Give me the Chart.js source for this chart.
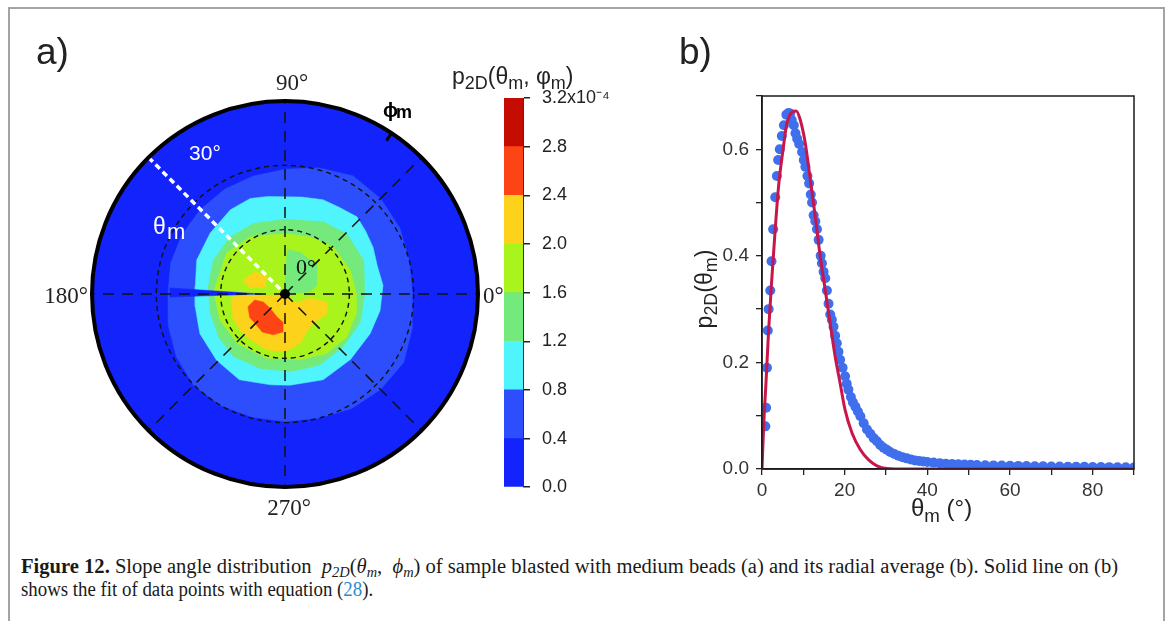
<!DOCTYPE html>
<html>
<head>
<meta charset="utf-8">
<script src="https://cdn.jsdelivr.net/npm/chart.js@4.4.1/dist/chart.umd.min.js"></script>
<style>
body { margin:0; width:1169px; height:621px; background:#fff; position:relative; overflow:hidden; font-family:"Liberation Sans", Arial, sans-serif; color:#222; }
#frame { position:absolute; left:8px; top:7px; width:1153px; height:640px; border:2px solid #a3a3a3; border-bottom:none; }
canvas { position:absolute; }
.lbl { position:absolute; white-space:nowrap; }
.lbl sub { font-size:0.78em; vertical-align:-0.3em; line-height:0; }
#cap1, #cap2 { position:absolute; left:21px; font-family:"Liberation Serif", serif; font-size:20.5px; white-space:nowrap; transform-origin:0 0; color:#1a1a1a; }
#cap1 i sub { font-size:0.7em; vertical-align:-0.3em; line-height:0; }
</style>
</head>
<body>
<div id="frame"></div>

<canvas id="polar" width="510" height="500" style="left:0;top:40px"></canvas>
<canvas id="cbar" width="130" height="450" style="left:495px;top:60px"></canvas>
<canvas id="radial" width="490" height="470" style="left:670px;top:60px"></canvas>

<div class="lbl" style="left:36px;top:31px;font-size:37px;">a)</div>
<div class="lbl" style="left:679px;top:31px;font-size:37px;">b)</div>
<div class="lbl" style="left:452px;top:63px;font-size:23px;">p<sub>2D</sub>(θ<sub>m</sub>, φ<sub>m</sub>)</div>
<div class="lbl" style="left:911px;top:494px;font-size:24px;">θ<sub>m</sub> (°)</div>
<div class="lbl" style="left:704px;top:289px;font-size:23px;transform:translate(-50%,-50%) rotate(-90deg);">p<sub>2D</sub>(θ<sub>m</sub>)</div>

<div id="cap1" style="top:555px;"><b>Figure 12.</b> Slope angle distribution &nbsp;<i>p<sub>2D</sub></i>(<i>θ<sub>m</sub></i>, &nbsp;<i>ϕ<sub>m</sub></i>) of sample blasted with medium beads (a) and its radial average (b). Solid line on (b)</div>
<div id="cap2" style="top:578px;">shows the fit of data points with equation (<span style="color:#2b8ccc">28</span>).</div>

<script>
// ---------- panel a: polar contour map, boundaries as [phi_m (deg), theta_m (deg)] ----------
var thetaMax = 30;
var ringTheta = [10, 20];
var spokePhi = [0, 45, 90, 135, 180, 225, 270, 315];
var levelColors = ['#1224fb', '#2c4efd', '#50f4fd', '#74e97c', '#aaf41e', '#fdd21b', '#fd4414', '#c40c00'];

var level04 = [[0,19.8],[15,20.0],[30,20.6],[45,21.0],[60,21.2],[75,20.3],[90,19.4],[105,19.0],[120,18.8],[135,18.6],[150,18.5],[165,18.4],[180,18.2],[195,18.8],[210,19.5],[225,20.1],[240,20.0],[255,19.8],[270,19.8],[285,20.0],[300,20.6],[315,21.0],[330,21.3],[345,20.5]];
var level08 = [[5,15.3],[17,15.0],[28,15.5],[38,15.9],[47,16.4],[58,15.9],[68,15.8],[80,15.3],[90,15.1],[100,15.4],[110,15.8],[123,15.6],[141,15.0],[159,14.7],[175,14.0],[188,14.1],[205,14.6],[224,14.8],[242,15.1],[261,14.3],[273,14.2],[294,14.6],[315,14.4],[335,14.6],[350,15.0]];
var level12 = [[0,12.4],[23,13.3],[44,13.4],[62,12.7],[90,11.6],[114,12.0],[134,12.3],[155,12.3],[175,12.0],[194,12.0],[213,12.3],[230,12.6],[251,12.2],[274,12.1],[296,12.3],[318,12.2],[339,12.5]];
var level16 = [[0,11.1],[20,10.8],[44,10.5],[66,9.7],[90,9.4],[121,10.4],[145,11.1],[178,11.1],[202,10.9],[226,10.7],[254,10.4],[283,10.5],[305,11.3],[325,11.7],[345,11.5]];
var level12Hole = [[3,1.0],[5,3.9],[16,5.2],[42,6.7],[70,6.9],[87,6.9],[90,2.0],[90,0.3]];
var level20 = [[208,0.5],[185,3.4],[181,6.5],[184,8.4],[205,8.9],[223,9.0],[233,8.9],[252,9.1],[270,9.0],[287,8.0],[307,6.4],[336,7.2],[349,6.6],[351,3.9],[323,2.3]];
var level20Patch = [[162,6.9],[144,5.8],[135,4.0],[161,3.3],[170,5.5]];
var level24 = [[191,4.8],[199,6.1],[214,6.6],[224,6.5],[239,6.9],[254,6.6],[267,5.9],[266,4.4],[251,3.8],[223,3.2],[200,3.6]];
var levelGap = [[177,17.9],[181.5,17.9],[180,3.6]];

// ---------- colour bar ----------
var cbEdges = [0, 0.4, 0.8, 1.2, 1.6, 2.0, 2.4, 2.8, 3.2];

// ---------- panel b: radial average ----------
var thetaObs = [0.8,1.0,1.2,1.4,1.6,2.0,2.3,2.7,3.2,3.6,3.9,4.3,4.8,5.3,5.9,6.4,6.8,7.2,7.7,8.1,8.5,9.0,9.7,10.1,10.5,11.0,11.4,11.8,12.1,12.5,12.9,13.3,13.7,14.2,14.5,14.9,15.3,15.7,16.1,16.5,16.9,17.3,17.7,18.1,18.5,18.9,19.5,20.1,20.5,20.9,21.5,22.0,22.6,23.2,23.8,24.6,25.4,26.2,27.0,27.8,28.6,29.4,30.2,31.0,32.0,33,34,35,36,37,38,39,40,41.5,43,44.5,46,47.5,49,50.5,52,54,56,58,60,62,64,66,68,70,72,74,76,78,80,82,84,86,88,90];
var pObs = [0.080,0.115,0.190,0.260,0.300,0.335,0.390,0.450,0.510,0.550,0.580,0.600,0.625,0.645,0.665,0.668,0.667,0.655,0.645,0.630,0.620,0.610,0.595,0.580,0.567,0.550,0.536,0.515,0.500,0.476,0.465,0.450,0.430,0.400,0.386,0.370,0.358,0.335,0.310,0.290,0.280,0.267,0.250,0.236,0.220,0.205,0.190,0.174,0.160,0.149,0.135,0.125,0.117,0.108,0.099,0.086,0.074,0.066,0.058,0.052,0.045,0.040,0.036,0.032,0.028,0.025,0.022,0.020,0.018,0.016,0.015,0.014,0.013,0.012,0.011,0.010,0.0095,0.009,0.0085,0.008,0.0075,0.007,0.0068,0.0065,0.006,0.0058,0.0055,0.0052,0.005,0.0048,0.0045,0.0043,0.004,0.004,0.0038,0.0036,0.0035,0.0033,0.0032,0.003];
var thetaFit = [0,0.4,1.0,1.6,2.4,3.2,4.0,5.1,6.0,7.3,8.3,9.3,10.5,11.7,12.9,14.1,15.3,16.5,17.7,18.9,20.1,21.8,23.8,25.8,27.8,30.2,35,90];
var pFit = [0,0.08,0.167,0.26,0.36,0.45,0.53,0.60,0.648,0.670,0.672,0.654,0.61,0.542,0.473,0.398,0.336,0.273,0.211,0.161,0.111,0.067,0.036,0.017,0.006,0.001,0,0];
var xLabelled = [0, 20, 40, 60, 80];
var yLabelled = [0, 0.2, 0.4, 0.6];

Chart.defaults.font.family = '"Liberation Sans", Arial, sans-serif';
Chart.defaults.color = '#2a2a2a';

function polarPoints(poly) {
    var pts = poly.map(function(p) {
        var a = p[0] * Math.PI / 180;
        return {x: p[1] * Math.cos(a), y: p[1] * Math.sin(a)};
    });
    pts.push(pts[0]);
    return pts;
}

var polarLayers = [
    [level04, 1], [level08, 2], [level12, 3], [level16, 4], [level12Hole, 3],
    [level20, 5], [level20Patch, 5], [level24, 6], [levelGap, 0]
];

var polarSets = polarLayers.map(function(l, i) {
    return {
        data: polarPoints(l[0]),
        showLine: true,
        fill: 'shape',
        backgroundColor: levelColors[l[1]],
        borderColor: levelColors[l[1]],
        borderWidth: 0.5,
        pointRadius: 0,
        tension: 0,
        order: polarLayers.length - i
    };
});

function drawText(ctx, s, x, y, font, color, align) {
    ctx.font = font;
    ctx.fillStyle = color;
    ctx.textAlign = align || 'center';
    ctx.textBaseline = 'middle';
    ctx.fillText(s, x, y);
}

var polarFrame = {
    id: 'polarFrame',
    beforeDatasetsDraw: function(chart) {
        var ctx = chart.ctx, xs = chart.scales.x, ys = chart.scales.y;
        var cx = xs.getPixelForValue(0), cy = ys.getPixelForValue(0);
        var R = xs.getPixelForValue(thetaMax) - cx;
        ctx.save();
        ctx.beginPath();
        ctx.arc(cx, cy, R, 0, 2 * Math.PI);
        ctx.fillStyle = levelColors[0];
        ctx.fill();
        ctx.restore();
    },
    afterDatasetsDraw: function(chart) {
        var ctx = chart.ctx, xs = chart.scales.x, ys = chart.scales.y;
        var cx = xs.getPixelForValue(0), cy = ys.getPixelForValue(0);
        var R = xs.getPixelForValue(thetaMax) - cx;
        ctx.save();
        ctx.strokeStyle = '#111';
        // dashed rings
        ctx.lineWidth = 1.4;
        ctx.setLineDash([5, 4]);
        ringTheta.forEach(function(t) {
            ctx.beginPath();
            ctx.arc(cx, cy, xs.getPixelForValue(t) - cx, 0, 2 * Math.PI);
            ctx.stroke();
        });
        // dashed spokes
        ctx.lineWidth = 1.5;
        ctx.setLineDash([11, 8]);
        spokePhi.forEach(function(ph) {
            if (ph === 135) return;
            var a = ph * Math.PI / 180;
            ctx.beginPath();
            ctx.moveTo(cx, cy);
            ctx.lineTo(cx + R * Math.cos(a), cy - R * Math.sin(a));
            ctx.stroke();
        });
        // white theta_m indicator
        ctx.strokeStyle = '#fff';
        ctx.lineWidth = 3.5;
        ctx.setLineDash([6, 4]);
        var a1 = 135 * Math.PI / 180;
        ctx.beginPath();
        ctx.moveTo(cx + R * Math.cos(a1), cy - R * Math.sin(a1));
        ctx.lineTo(cx, cy);
        ctx.stroke();
        // outer circle
        ctx.setLineDash([]);
        ctx.strokeStyle = '#000';
        ctx.lineWidth = 4;
        ctx.beginPath();
        ctx.arc(cx, cy, R, 0, 2 * Math.PI);
        ctx.stroke();
        // phi_m tick
        var a2 = 56.5 * Math.PI / 180;
        ctx.lineWidth = 3;
        ctx.beginPath();
        ctx.moveTo(cx + (R - 9) * Math.cos(a2), cy - (R - 9) * Math.sin(a2));
        ctx.lineTo(cx + R * Math.cos(a2), cy - R * Math.sin(a2));
        ctx.stroke();
        // centre dot
        ctx.fillStyle = '#000';
        ctx.beginPath();
        ctx.arc(cx, cy, 5, 0, 2 * Math.PI);
        ctx.fill();

        var serif = '23px "Liberation Serif", serif';
        drawText(ctx, '90°', cx + 7, cy - R - 17, serif, '#222');
        drawText(ctx, '270°', cx + 4, cy + R + 22, serif, '#222');
        drawText(ctx, '180°', cx - R - 4, cy + 3, serif, '#222', 'right');
        drawText(ctx, '0°', cx + R + 5, cy + 3, serif, '#222', 'left');
        drawText(ctx, '0°', cx + 21, cy - 26, '22px "Liberation Serif", serif', '#111');
        drawText(ctx, '30°', cx - 80, cy - 140, '21px "Liberation Sans", sans-serif', '#fff');
        drawText(ctx, 'θ', cx - 132, cy - 66, '23px "Liberation Sans", sans-serif', '#fff', 'left');
        drawText(ctx, 'm', cx - 118, cy - 61, '22px "Liberation Sans", sans-serif', '#fff', 'left');
        drawText(ctx, 'ϕ', cx + 98, cy - 183, 'bold 20px "Liberation Sans", sans-serif', '#000', 'left');
        drawText(ctx, 'm', cx + 111, cy - 181, 'bold 18px "Liberation Sans", sans-serif', '#000', 'left');
        ctx.restore();
    }
};

new Chart(document.getElementById('polar'), {
    type: 'scatter',
    data: {datasets: polarSets},
    options: {
        responsive: false,
        animation: false,
        devicePixelRatio: 1,
        events: [],
        layout: {padding: {left: 92, right: 32, top: 61, bottom: 53}},
        plugins: {legend: {display: false}, tooltip: {enabled: false}},
        scales: {
            x: {type: 'linear', min: -thetaMax, max: thetaMax, display: false},
            y: {type: 'linear', min: -thetaMax, max: thetaMax, display: false}
        }
    },
    plugins: [polarFrame]
});

// colour bar
var cbSets = [];
for (var i = 0; i < cbEdges.length - 1; i++) {
    cbSets.push({data: [[cbEdges[i], cbEdges[i + 1]]], backgroundColor: levelColors[i], borderWidth: 0, grouped: false, barPercentage: 1, categoryPercentage: 1});
}
new Chart(document.getElementById('cbar'), {
    type: 'bar',
    data: {labels: [''], datasets: cbSets},
    options: {
        responsive: false,
        animation: false,
        devicePixelRatio: 1,
        events: [],
        layout: {padding: {left: 9, right: 0, top: 38, bottom: 20}},
        plugins: {legend: {display: false}, tooltip: {enabled: false}},
        scales: {
            x: {display: false},
            y: {
                position: 'right',
                min: cbEdges[0], max: cbEdges[cbEdges.length - 1],
                afterFit: function(s) { s.width = 102; },
                afterBuildTicks: function(s) { s.ticks = cbEdges.map(function(v) { return {value: v}; }); },
                ticks: {
                    padding: 12,
                    color: '#222',
                    font: {size: 18},
                    callback: function(v) {
                        return Math.abs(v - 3.2) < 1e-6 ? '3.2x10⁻⁴' : v.toFixed(1);
                    }
                },
                grid: {drawOnChartArea: false, drawTicks: true, tickLength: 7, color: '#222', lineWidth: 1.5},
                border: {display: true, color: '#333', width: 1}
            }
        }
    }
});

// panel b
var frameBox = {
    id: 'frameBox',
    afterDraw: function(chart) {
        var a = chart.chartArea, ctx = chart.ctx;
        ctx.save();
        ctx.strokeStyle = '#1a1a1a';
        ctx.lineWidth = 1.5;
        ctx.strokeRect(a.left, a.top, a.right - a.left, a.bottom - a.top);
        ctx.restore();
    }
};

new Chart(document.getElementById('radial'), {
    type: 'scatter',
    data: {
        datasets: [
            {
                data: thetaFit.map(function(t, i) { return {x: t, y: pFit[i]}; }),
                showLine: true,
                borderColor: '#c8164b',
                borderWidth: 3,
                pointRadius: 0,
                cubicInterpolationMode: 'monotone'
            },
            {
                data: thetaObs.map(function(t, i) { return {x: t, y: pObs[i]}; }),
                backgroundColor: '#3f6fec',
                borderWidth: 0,
                pointRadius: 5
            }
        ]
    },
    options: {
        responsive: false,
        animation: false,
        devicePixelRatio: 1,
        events: [],
        layout: {padding: {left: 0, right: 26, top: 36, bottom: 0}},
        plugins: {legend: {display: false}, tooltip: {enabled: false}},
        scales: {
            x: {
                type: 'linear', min: 0, max: 90,
                afterFit: function(s) { s.height = 61; },
                ticks: {
                    stepSize: 10, autoSkip: false, maxRotation: 0, padding: 4,
                    color: '#333', font: {size: 19},
                    callback: function(v) { return xLabelled.indexOf(v) >= 0 ? String(v) : ''; }
                },
                grid: {drawOnChartArea: false, tickLength: 6, color: '#222', lineWidth: 1.3},
                border: {color: '#1a1a1a', width: 1.5}
            },
            y: {
                type: 'linear', min: 0, max: 0.7,
                afterFit: function(s) { s.width = 92; },
                ticks: {
                    stepSize: 0.1, autoSkip: false, padding: 7,
                    color: '#333', font: {size: 19},
                    callback: function(v) {
                        var r = Math.round(v * 10) / 10;
                        return yLabelled.indexOf(r) >= 0 ? r.toFixed(1) : '';
                    }
                },
                grid: {drawOnChartArea: false, tickLength: 6, color: '#222', lineWidth: 1.3},
                border: {color: '#1a1a1a', width: 1.5}
            }
        }
    },
    plugins: [frameBox]
});

// squeeze caption lines to the printed width
function fitWidth(id, w) {
    var el = document.getElementById(id);
    el.style.transform = 'scaleX(' + (w / el.offsetWidth) + ')';
}
fitWidth('cap1', 1097);
fitWidth('cap2', 352);
</script>
</body>
</html>
